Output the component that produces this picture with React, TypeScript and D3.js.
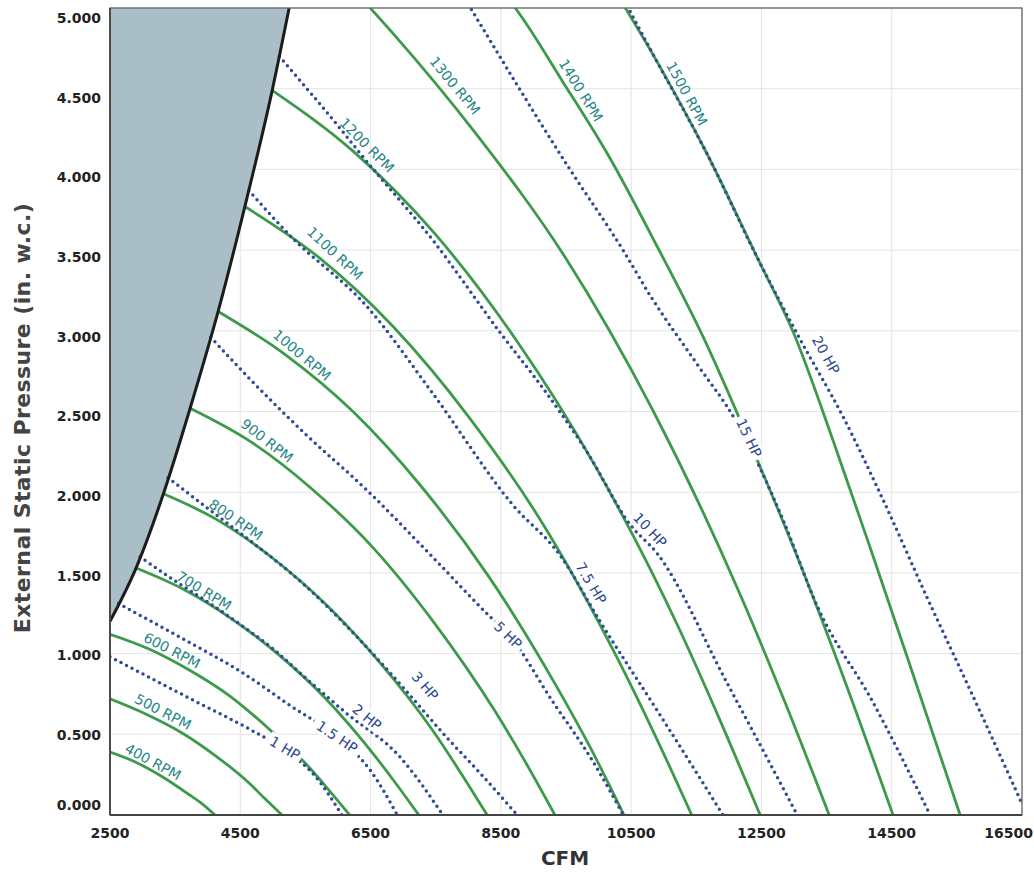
import React from 'react';
import * as d3 from 'd3';

type Pt = [number, number];

const X_TICKS = [2500, 4500, 6500, 8500, 10500, 12500, 14500, 16500];
const Y_TICKS = [0, 0.5, 1, 1.5, 2, 2.5, 3, 3.5, 4, 4.5, 5];

const RPM_NAMES = ['400 RPM', '500 RPM', '600 RPM', '700 RPM', '800 RPM', '900 RPM', '1000 RPM', '1100 RPM', '1200 RPM', '1300 RPM', '1400 RPM', '1500 RPM'];
const RPM_400: Pt[] = [[2500, 0.39], [2880, 0.33], [3290, 0.24], [3700, 0.13], [3910, 0.07], [4110, 0]];
const RPM_500: Pt[] = [[2500, 0.72], [3080, 0.62], [3600, 0.51], [4110, 0.37], [4630, 0.2], [4880, 0.1], [5140, 0]];
const RPM_600: Pt[] = [[2500, 1.12], [3090, 1.03], [3710, 0.9], [4330, 0.74], [4950, 0.53], [5570, 0.29], [5870, 0.15], [6180, 0]];
const RPM_700: Pt[] = [[2900, 1.53], [3620, 1.4], [4350, 1.22], [5070, 1.0], [5790, 0.73], [6520, 0.39], [6880, 0.2], [7240, 0]];
const RPM_800: Pt[] = [[3320, 1.99], [4140, 1.83], [4970, 1.6], [5800, 1.31], [6630, 0.95], [7460, 0.52], [7870, 0.27], [8290, 0]];
const RPM_900: Pt[] = [[3730, 2.52], [4670, 2.31], [5600, 2.02], [6530, 1.66], [7460, 1.2], [8400, 0.65], [8860, 0.34], [9330, 0]];
const RPM_1000: Pt[] = [[4160, 3.12], [5200, 2.85], [6230, 2.5], [7270, 2.04], [8310, 1.48], [9350, 0.8], [9870, 0.42], [10390, 0]];
const RPM_1100: Pt[] = [[4570, 3.77], [5720, 3.45], [6860, 3.02], [8000, 2.47], [9150, 1.8], [10290, 0.97], [10860, 0.5], [11430, 0]];
const RPM_1200: Pt[] = [[4990, 4.49], [6240, 4.11], [7490, 3.6], [8740, 2.94], [9980, 2.14], [11230, 1.16], [11850, 0.6], [12480, 0]];
const RPM_1300: Pt[] = [[6450, 5.02], [6850, 4.84], [8120, 4.22], [9480, 3.46], [10830, 2.51], [12180, 1.36], [12860, 0.7], [13540, 0]];
const RPM_1400: Pt[] = [[8300, 5.2], [8720, 5.0], [9440, 4.55], [10160, 4.08], [10890, 3.53], [11620, 2.95], [12340, 2.29], [13070, 1.58], [13790, 0.82], [14520, 0]];
const RPM_1500: Pt[] = [[10200, 5.14], [10880, 4.68], [11660, 4.1], [12440, 3.45], [13000, 2.98], [13600, 2.32], [14200, 1.62], [14770, 0.94], [15550, 0]];
const RPM_CURVES = [RPM_400, RPM_500, RPM_600, RPM_700, RPM_800, RPM_900, RPM_1000, RPM_1100, RPM_1200, RPM_1300, RPM_1400, RPM_1500];
const RPM_LABEL_POS: Pt[] = [
  [3160, 0.33], [3314, 0.64], [3452, 1.02], [3943, 1.39], [4434, 1.83], [4910, 2.32],
  [5447, 2.85], [5954, 3.48], [6445, 4.15], [7796, 4.52], [9730, 4.49], [11357, 4.47],
];

const HP_NAMES = ['1 HP', '1.5 HP', '2 HP', '3 HP', '5 HP', '7.5 HP', '10 HP', '15 HP', '20 HP'];
const HP_1: Pt[] = [[2500, 0.98], [3880, 0.69], [4650, 0.53], [5190, 0.4], [5650, 0.24], [6060, 0]];
const HP_1_5: Pt[] = [[2630, 1.31], [3580, 1.1], [4500, 0.89], [5260, 0.68], [5990, 0.48], [6490, 0.28], [6910, 0]];
const HP_2: Pt[] = [[2960, 1.6], [3500, 1.45], [4000, 1.32], [4500, 1.18], [5000, 1.03], [5500, 0.85], [6100, 0.64], [6950, 0.36], [7610, 0]];
const HP_3: Pt[] = [[3390, 2.09], [4000, 1.9], [4650, 1.7], [5500, 1.42], [6300, 1.1], [7000, 0.79], [7670, 0.48], [8180, 0.26], [8750, 0]];
const HP_5: Pt[] = [[4045, 2.96], [4650, 2.7], [5500, 2.36], [6450, 2.01], [7400, 1.62], [8380, 1.21], [8610, 1.12], [9300, 0.7], [9900, 0.34], [10380, 0]];
const HP_7_5: Pt[] = [[4630, 3.87], [5263, 3.59], [6445, 3.15], [7458, 2.61], [8686, 1.92], [9408, 1.61], [10022, 1.2], [10943, 0.62], [11910, 0]];
const HP_10: Pt[] = [[5100, 4.7], [6100, 4.22], [6338, 4.1], [7458, 3.56], [8487, 2.99], [9208, 2.61], [9822, 2.25], [10483, 1.8], [10900, 1.62], [11970, 0.82], [13050, 0]];
const HP_15: Pt[] = [[7900, 5.09], [9560, 4.0], [10375, 3.5], [10805, 3.21], [11500, 2.8], [12125, 2.43], [12830, 1.83], [13350, 1.3], [14210, 0.7], [15090, 0]];
const HP_20: Pt[] = [[10350, 5.08], [10880, 4.68], [11660, 4.1], [12440, 3.45], [13090, 2.95], [13750, 2.47], [14370, 1.95], [15040, 1.35], [15800, 0.69], [16500, 0.07]];
const HP_LINES = [HP_1, HP_1_5, HP_2, HP_3, HP_5, HP_7_5, HP_10, HP_15, HP_20];
const HP_LABEL_POS: Pt[] = [
  [5186, 0.415], [5985, 0.483], [6445, 0.607], [7336, 0.8], [8610, 1.115],
  [9884, 1.437], [10790, 1.766], [12309, 2.336], [13491, 2.85],
];

const SURGE: Pt[] = [[2500, 1.2], [2900, 1.53], [3320, 1.99], [3730, 2.52], [4160, 3.12], [4570, 3.77], [4990, 4.49], [5250, 5.0]];

const X_TITLE = 'CFM';
const Y_TITLE = 'External Static Pressure (in. w.c.)';

const W = 1034;
const H = 878;
const L = 110;
const R = 1022;
const T = 8;
const B = 815;

const FONT = "'DejaVu Sans', Verdana, sans-serif";

export default function App() {
  const x = d3.scaleLinear().domain([2500, 16500]).range([L, R]);
  const y = d3.scaleLinear().domain([0, 5]).range([B, T]);
  const yLab = d3.scaleLinear().domain([0.5, 5]).range([735, 18]);
  const line = d3
    .line<Pt>()
    .x((d) => x(d[0]))
    .y((d) => y(d[1]))
    .curve(d3.curveMonotoneX);

  const surgePath = line(SURGE) || '';
  const last = SURGE[SURGE.length - 1];
  const areaPath =
    `M${x(2500)},${y(5)} L${x(2500)},${y(SURGE[0][1])} ` +
    surgePath.replace(/^M/, 'L') +
    ` L${x(last[0])},${y(5)} Z`;

  const angleAt = (curve: Pt[], q: number) => {
    let i = 0;
    while (i < curve.length - 2 && curve[i + 1][0] < q) i++;
    const [q0, s0] = curve[i];
    const [q1, s1] = curve[i + 1];
    return (Math.atan2(y(s1) - y(s0), x(q1) - x(q0)) * 180) / Math.PI;
  };

  return (
    <svg
      width={W}
      height={H}
      style={{ position: 'absolute', left: 0, top: 0, background: '#fff' }}
      fontFamily={FONT}
    >
      <defs>
        <clipPath id="plot">
          <rect x={L} y={T} width={R - L} height={B - T} />
        </clipPath>
      </defs>
      <rect x={0} y={0} width={W} height={H} fill="#fff" />
      <g stroke="#e4e4e4" strokeWidth={1}>
        {X_TICKS.map((t) => (
          <line key={'gx' + t} x1={x(t)} x2={x(t)} y1={T} y2={B} />
        ))}
        {Y_TICKS.map((t) => (
          <line key={'gy' + t} x1={L} x2={R} y1={y(t)} y2={y(t)} />
        ))}
      </g>
      <g clipPath="url(#plot)">
        <path d={areaPath} fill="#a9bec7" stroke="none" />
        {RPM_CURVES.map((c, i) => (
          <path key={'rpm' + i} d={line(c) || ''} fill="none" stroke="#3d9a4a" strokeWidth={2.8} />
        ))}
        {HP_LINES.map((c, i) => (
          <path
            key={'hp' + i}
            d={line(c) || ''}
            fill="none"
            stroke="#2f4c98"
            strokeWidth={3.5}
            strokeDasharray="0 6.2"
            strokeLinecap="round"
          />
        ))}
        <path d={surgePath} fill="none" stroke="#1c1c1c" strokeWidth={3} />
      </g>
      <rect x={L} y={T} width={R - L} height={B - T} fill="none" stroke="#666" strokeWidth={1.3} />
      <line x1={L} x2={L} y1={T} y2={B} stroke="#444" strokeWidth={1.8} />
      <line x1={L} x2={R} y1={B} y2={B} stroke="#444" strokeWidth={1.8} />
      {RPM_CURVES.map((c, i) => {
        const [q, s] = RPM_LABEL_POS[i];
        const ang = angleAt(c, q - 150);
        return (
          <g key={'rl' + i} transform={`translate(${x(q)},${y(s)}) rotate(${ang})`}>
            <text textAnchor="middle" dominantBaseline="central" fill="#238585" fontSize={14}>
              {RPM_NAMES[i]}
            </text>
          </g>
        );
      })}
      {HP_LINES.map((c, i) => {
        const [q, s] = HP_LABEL_POS[i];
        const ang = angleAt(c, q);
        const w = HP_NAMES[i].length * 8.6 + 4;
        return (
          <g key={'hl' + i} transform={`translate(${x(q)},${y(s)}) rotate(${ang})`}>
            <rect x={-w / 2} y={-8} width={w} height={16} fill="#fff" />
            <text textAnchor="middle" dominantBaseline="central" fill="#2a468e" fontSize={14}>
              {HP_NAMES[i]}
            </text>
          </g>
        );
      })}
      {Y_TICKS.map((t) => (
        <text
          key={'yl' + t}
          x={101}
          y={t === 0 ? B - 10 : yLab(t)}
          textAnchor="end"
          dominantBaseline="central"
          fontSize={14}
          fontWeight="bold"
          fill="#222"
        >
          {t.toFixed(3)}
        </text>
      ))}
      {X_TICKS.map((t, i) => (
        <text
          key={'xl' + t}
          x={i === X_TICKS.length - 1 ? W - 1 : x(t)}
          y={833}
          textAnchor={i === X_TICKS.length - 1 ? 'end' : 'middle'}
          dominantBaseline="central"
          fontSize={14}
          fontWeight="bold"
          fill="#222"
        >
          {t}
        </text>
      ))}
      <text x={565} y={858} textAnchor="middle" dominantBaseline="central" fontSize={20} fontWeight="bold" fill="#333">
        {X_TITLE}
      </text>
      <text
        transform={`translate(22,418) rotate(-90)`}
        textAnchor="middle"
        dominantBaseline="central"
        fontSize={22}
        fontWeight="bold"
        letterSpacing={0.4}
        fill="#444"
      >
        {Y_TITLE}
      </text>
    </svg>
  );
}
